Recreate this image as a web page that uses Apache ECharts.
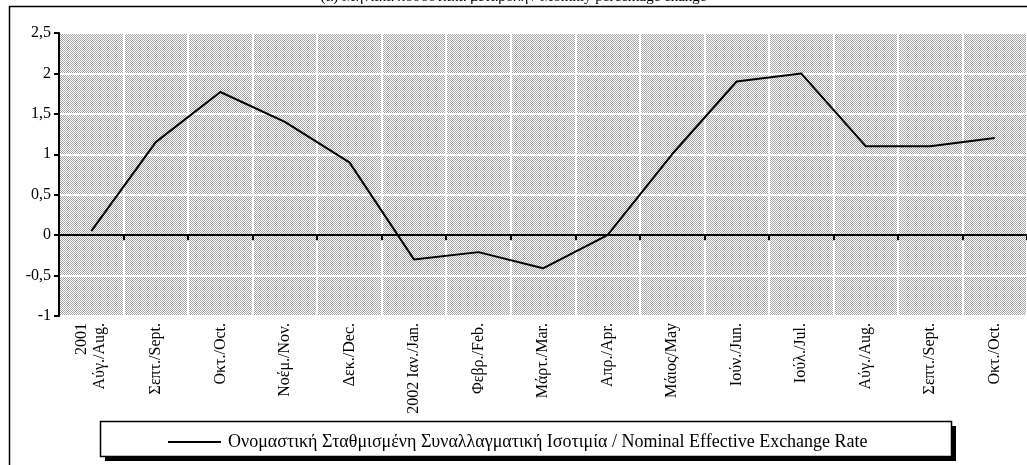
<!DOCTYPE html>
<html>
<head>
<meta charset="utf-8">
<script src="https://cdn.jsdelivr.net/npm/echarts@6/dist/echarts.min.js"></script>
<style>
html,body{margin:0;padding:0;background:#fff;}
#c{width:1027px;height:465px;}
</style>
</head>
<body>
<div id="c"></div>
<script>
var categories = ['2001\nΑύγ./Aug.', 'Σεπτ./Sept.', 'Οκτ./Oct.', 'Νοέμ./Nov.', 'Δεκ./Dec.', '2002 Ιαν./Jan.', 'Φεβρ./Feb.', 'Μάρτ./Mar.', 'Απρ./Apr.', 'Μάιος/May', 'Ιούν./Jun.', 'Ιούλ./Jul.', 'Αύγ./Aug.', 'Σεπτ./Sept.', 'Οκτ./Oct.'];
var neerValues = [0.05, 1.15, 1.77, 1.40, 0.90, -0.30, -0.21, -0.41, 0.00, 1.00, 1.90, 2.00, 1.10, 1.10, 1.20];
var seriesName = 'Ονομαστική Σταθμισμένη Συναλλαγματική Ισοτιμία / Nominal Effective Exchange Rate';
var titleText = '(α) Μηνιαία ποσοστιαία μεταβολή / Monthly percentage change';

var pc = document.createElement('canvas');
pc.width = 2; pc.height = 2;
var pctx = pc.getContext('2d');
pctx.fillStyle = '#ffffff'; pctx.fillRect(0,0,2,2);
pctx.fillStyle = '#a4a4a4'; pctx.fillRect(0,0,1,1); pctx.fillRect(1,1,1,1);

var serif = '"Liberation Serif", "DejaVu Serif", serif';
var chart = echarts.init(document.getElementById('c'), null, {renderer:'canvas'});
chart.setOption({
  animation: false,
  backgroundColor: '#ffffff',
  title: {
    text: titleText, left: 'center', top: -15,
    textStyle: {fontFamily: serif, fontSize: 15, fontWeight: 'normal', color: '#000'}
  },
  graphic: [
    {type:'rect', z: 0, shape:{x:9.5, y:6.5, width:1100, height:1000}, style:{fill:'none', stroke:'#000', lineWidth:1.5}, silent:true},
    {type:'rect', z: 1, shape:{x:105, y:426, width:851, height:35}, style:{fill:'#000'}, silent:true},
    {type:'rect', z: 2, shape:{x:100.5, y:421.5, width:851, height:35}, style:{fill:'#fff', stroke:'#000', lineWidth:1.5}, silent:true}
  ],
  grid: {left: 59, top: 33, right: 0, bottom: 149, show: true, borderWidth: 0,
         backgroundColor: {image: pc, repeat: 'repeat'}},
  legend: {
    left: 163, top: 428, z: 10, itemWidth: 53, itemHeight: 2, itemGap: 2,
    data: [{name: seriesName, icon: 'rect'}],
    textStyle: {fontFamily: serif, fontSize: 18, color: '#000', padding: [0,0,0,2]}
  },
  xAxis: [
    {
      type: 'category', data: categories, boundaryGap: true, position: 'bottom',
      axisLine: {show: false, onZero: false},
      axisTick: {show: false},
      splitLine: {show: true, interval: 0, lineStyle: {color: '#ffffff', width: 2}},
      axisLabel: {interval: 0, rotate: 90, margin: 7, fontFamily: serif, fontSize: 16, color: '#000', lineHeight: 18}
    },
    {
      type: 'category', data: categories, boundaryGap: true, position: 'top',
      axisLine: {show: true, onZero: true, lineStyle: {color: '#000', width: 2}},
      axisTick: {show: true, inside: true, length: 5, interval: 0, lineStyle: {color: '#000', width: 2}},
      axisLabel: {show: false},
      splitLine: {show: false}
    }
  ],
  yAxis: {
    type: 'value', min: -1, max: 2.5, interval: 0.5,
    axisLine: {show: true, lineStyle: {color: '#000', width: 2}},
    axisTick: {show: true, length: 5, lineStyle: {color: '#000', width: 2}},
    splitLine: {show: true, lineStyle: {color: '#ffffff', width: 2}},
    axisLabel: {margin: 8, fontFamily: serif, fontSize: 16, color: '#000',
      formatter: function(v){ return String(v).replace('.', ','); }}
  },
  series: [{
    name: seriesName, type: 'line', data: neerValues, xAxisIndex: 0,
    symbol: 'none', z: 5,
    lineStyle: {color: '#000', width: 2}, itemStyle: {color: '#000'}
  }]
});
</script>
</body>
</html>
